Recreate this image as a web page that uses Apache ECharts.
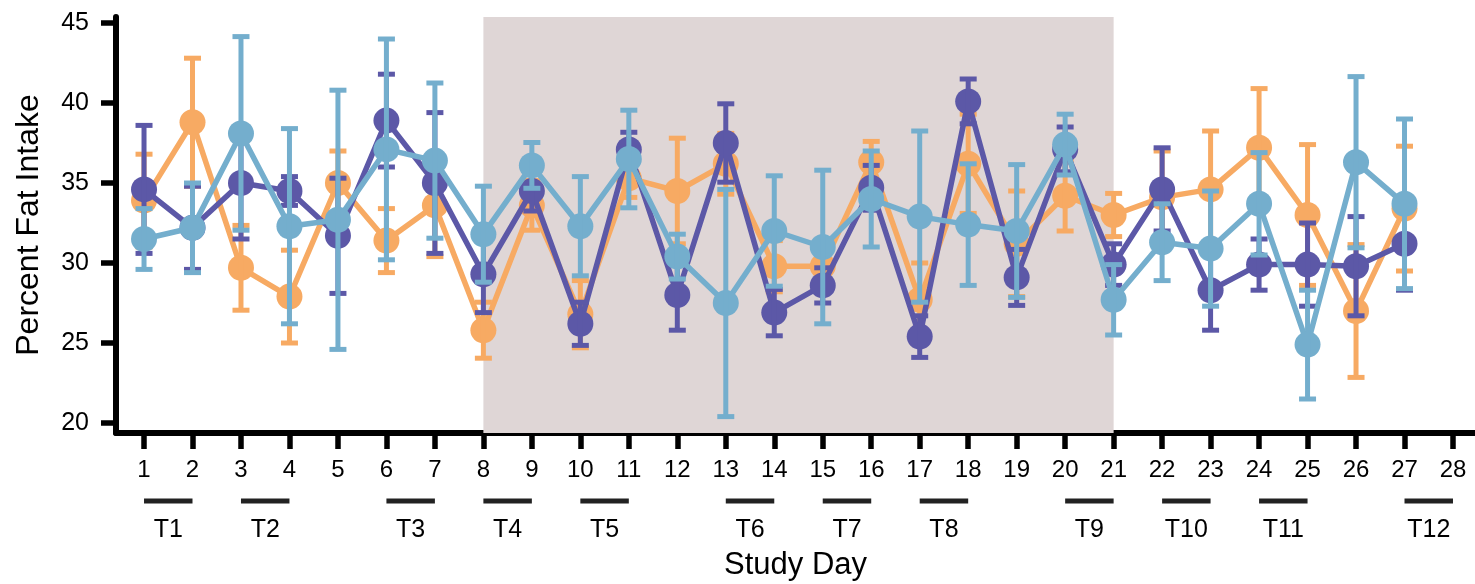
<!DOCTYPE html>
<html>
<head>
<meta charset="utf-8">
<script src="https://cdn.jsdelivr.net/npm/echarts@6/dist/echarts.min.js"></script>
<style>
  html, body { margin: 0; padding: 0; background: #fff; }
  #chart { width: 1475px; height: 584px; }
</style>
</head>
<body>
<div id="chart"></div>
<script>
// study days with data (day 28 has none)
var days = [1, 2, 3, 4, 5, 6, 7, 8, 9, 10, 11, 12, 13, 14, 15, 16, 17, 18, 19, 20, 21, 22, 23, 24, 25, 26, 27]
var dayTicks = [1, 2, 3, 4, 5, 6, 7, 8, 9, 10, 11, 12, 13, 14, 15, 16, 17, 18, 19, 20, 21, 22, 23, 24, 25, 26, 27, 28]
var yTicks = [20, 25, 30, 35, 40, 45]

// orange group
var orangeMean = [33.9, 38.8, 29.7, 27.9, 35.0, 31.4, 33.6, 25.8, 33.6, 26.8, 35.3, 34.5, 36.2, 29.8, 29.8, 36.3, 27.7, 36.2, 31.2, 34.2, 33.0, 34.1, 34.6, 37.2, 33.0, 27.0, 33.4]
var orangeErr = [2.9, 4.0, 2.65, 2.9, 2.0, 2.0, 3.2, 1.75, 1.55, 2.1, 1.2, 3.3, 1.9, 1.6, 1.1, 1.3, 2.3, 3.1, 3.3, 2.2, 1.35, 2.9, 3.65, 3.7, 4.4, 4.15, 3.9]
// purple group
var purpleMean = [34.6, 32.2, 35.0, 34.5, 31.7, 38.9, 35.0, 29.3, 34.5, 26.2, 37.1, 28.0, 37.5, 26.9, 28.6, 34.7, 25.4, 40.1, 29.1, 37.1, 29.9, 34.6, 28.3, 29.9, 29.9, 29.8, 31.2]
var purpleErr = [4.0, 2.6, 3.5, 0.9, 3.6, 2.9, 4.4, 2.4, 1.25, 1.35, 1.07, 2.2, 2.45, 1.45, 1.1, 1.4, 1.3, 1.4, 1.75, 1.4, 1.3, 2.6, 2.5, 1.6, 2.6, 3.1, 2.9]
// light blue group
var blueMean = [31.5, 32.2, 38.1, 32.3, 32.7, 37.1, 36.4, 31.8, 36.1, 32.3, 36.5, 30.4, 27.5, 32.0, 31.0, 34.0, 32.9, 32.4, 32.0, 37.4, 27.7, 31.3, 30.9, 33.7, 24.9, 36.3, 33.7]
var blueErr = [1.9, 2.8, 6.05, 6.1, 8.1, 6.9, 4.85, 3.0, 1.43, 3.1, 3.05, 1.4, 7.1, 3.45, 4.8, 3.0, 5.35, 3.8, 4.15, 1.9, 2.2, 2.4, 3.6, 3.2, 3.4, 5.35, 5.3]

// shaded period
var shadeStart = 8
var shadeEnd = 21

// test periods below the axis (each spans two days)
var testStart = [1, 3, 6, 8, 10, 13, 15, 17, 20, 22, 24, 27]
var testLabels = ['T1', 'T2', 'T3', 'T4', 'T5', 'T6', 'T7', 'T8', 'T9', 'T10', 'T11', 'T12']

var FONT = 'Liberation Sans'
var colOrange = '#f7aa63'
var colPurple = '#5c58a7'
var colBlue = '#74aecd'

function errData (mean, err) {
  return days.map(function (d, i) { return [d, mean[i] - err[i], mean[i] + err[i]] })
}

function errSeries (mean, err, color, z) {
  return {
    type: 'custom',
    z: z,
    data: errData(mean, err),
    encode: { x: 0, y: [1, 2] },
    renderItem: function (params, api) {
      var top = api.coord([api.value(0), api.value(2)])
      var bot = api.coord([api.value(0), api.value(1)])
      var cap = 8.5
      var st = { stroke: color, lineWidth: 5 }
      return {
        type: 'group',
        children: [
          { type: 'line', shape: { x1: top[0], y1: top[1], x2: bot[0], y2: bot[1] }, style: st },
          { type: 'line', shape: { x1: top[0] - cap, y1: top[1], x2: top[0] + cap, y2: top[1] }, style: st },
          { type: 'line', shape: { x1: bot[0] - cap, y1: bot[1], x2: bot[0] + cap, y2: bot[1] }, style: st }
        ]
      }
    }
  }
}

function lineSeries (mean, color, z) {
  return {
    type: 'line',
    z: z,
    data: days.map(function (d, i) { return [d, mean[i]] }),
    symbol: 'circle',
    symbolSize: 26,
    showSymbol: true,
    lineStyle: { color: color, width: 5.5 },
    itemStyle: { color: color, opacity: 1 },
    emphasis: { disabled: true },
    animation: false
  }
}

var chart = echarts.init(document.getElementById('chart'))
var option = {
  animation: false,
  grid: [
    { left: 116, right: 0, top: 17, bottom: 151, outerBoundsMode: 'none' },
    { left: 116, right: 0, top: 491, height: 20, outerBoundsMode: 'none' }
  ],
  xAxis: [
    {
      type: 'value',
      gridIndex: 0,
      min: 0.422,
      max: 28.454,
      name: 'Study Day',
      nameLocation: 'middle',
      nameGap: 117,
      nameTextStyle: { fontFamily: FONT, fontSize: 31, color: '#000' },
      splitLine: { show: false },
      axisLine: { show: true, onZero: false, lineStyle: { color: '#000', width: 6 } },
      axisTick: { show: true, customValues: dayTicks, length: 16, lineStyle: { color: '#000', width: 5.5 } },
      axisLabel: { customValues: dayTicks, margin: 25, fontFamily: FONT, fontSize: 24, color: '#000' }
    },
    {
      type: 'value',
      gridIndex: 1,
      min: 0.422,
      max: 28.454,
      show: false
    }
  ],
  yAxis: [
    {
      type: 'value',
      gridIndex: 0,
      min: 19.375,
      max: 45.375,
      name: 'Percent Fat Intake',
      nameLocation: 'middle',
      nameGap: 71,
      nameTextStyle: { fontFamily: FONT, fontSize: 32, color: '#000' },
      splitLine: { show: false },
      axisLine: { show: true, lineStyle: { color: '#000', width: 6 } },
      axisTick: { show: true, customValues: yTicks, length: 15, lineStyle: { color: '#000', width: 5.5 } },
      axisLabel: { customValues: yTicks, margin: 27, fontFamily: FONT, fontSize: 25, color: '#000' }
    },
    {
      type: 'value',
      gridIndex: 1,
      min: 0,
      max: 1,
      show: false
    }
  ],
  series: [
    {
      type: 'line',
      z: 1,
      data: [],
      silent: true,
      markArea: {
        silent: true,
        itemStyle: { color: '#dfd6d6' },
        data: [[{ xAxis: shadeStart }, { xAxis: shadeEnd }]]
      }
    },
    lineSeries(orangeMean, colOrange, 2),
    errSeries(orangeMean, orangeErr, colOrange, 3),
    lineSeries(purpleMean, colPurple, 4),
    errSeries(purpleMean, purpleErr, colPurple, 5),
    lineSeries(blueMean, colBlue, 6),
    errSeries(blueMean, blueErr, colBlue, 7),
    {
      type: 'custom',
      xAxisIndex: 1,
      yAxisIndex: 1,
      data: testStart.map(function (s, i) { return [s, s + 1, testLabels[i]] }),
      encode: { x: [0, 1] },
      renderItem: function (params, api) {
        var a = api.coord([api.value(0), 0.5])
        var b = api.coord([api.value(1), 0.5])
        return {
          type: 'group',
          children: [
            { type: 'line', shape: { x1: a[0], y1: a[1], x2: b[0], y2: b[1] }, style: { stroke: '#222', lineWidth: 5 } },
            {
              type: 'text',
              x: (a[0] + b[0]) / 2,
              y: a[1] + 29,
              style: {
                text: testLabels[params.dataIndex],
                fontFamily: FONT,
                fontSize: 25,
                fill: '#000',
                align: 'center',
                verticalAlign: 'middle'
              }
            }
          ]
        }
      }
    }
  ]
}
chart.setOption(option)
</script>
</body>
</html>
